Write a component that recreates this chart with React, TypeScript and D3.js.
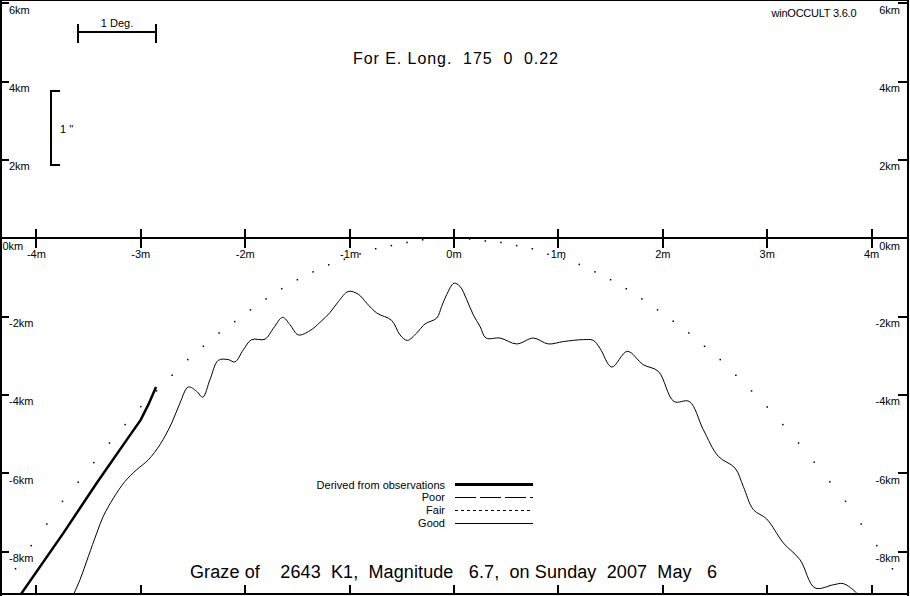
import React from 'react';
import * as d3 from 'd3';

const W = 910;
const H = 596;

// Axis ticks
const minuteTicks = [-4, -3, -2, -1, 0, 1, 2, 3, 4];
const minuteLabels = ['-4m', '-3m', '-2m', '-1m', '0m', '1m', '2m', '3m', '4m'];
const kmTicks = [6, 4, 2, -2, -4, -6, -8];
const kmLabels = ['6km', '4km', '2km', '-2km', '-4km', '-6km', '-8km'];
const zeroLabel = '0km';

// Texts
const titleText = 'For E. Long.  175  0  0.22';
const versionText = 'winOCCULT 3.6.0';
const grazeText = 'Graze of    2643  K1,  Magnitude   6.7,  on Sunday  2007  May   6';
const degLabel = '1 Deg.';
const arcsecLabel = "1 ''";

// Legend
const legendLabels = ['Derived from observations', 'Poor', 'Fair', 'Good'];

// Limb (dotted) curve: minutes, km
const limbMin = [
  -4.2, -4.05, -3.9, -3.75, -3.6, -3.45, -3.3, -3.15, -3.0, -2.85, -2.7, -2.55, -2.4, -2.25,
  -2.1, -1.95, -1.8, -1.65, -1.5, -1.35, -1.2, -1.05, -0.9, -0.75, -0.6, -0.45, -0.3, -0.15,
  0.0,
  0.15, 0.3, 0.45, 0.6, 0.75, 0.9, 1.05, 1.2, 1.35, 1.5, 1.65, 1.8, 1.95, 2.1,
  2.25, 2.4, 2.55, 2.7, 2.85, 3.0, 3.15, 3.3, 3.45, 3.6, 3.75, 3.9, 4.05, 4.2,
];
const limbKm = [
  -8.44, -7.85, -7.3, -6.72, -6.23, -5.73, -5.23, -4.76, -4.3, -3.9, -3.5, -3.1, -2.76, -2.42,
  -2.13, -1.83, -1.55, -1.29, -1.06, -0.86, -0.68, -0.54, -0.4, -0.27, -0.19, -0.11, -0.04, 0.0,
  -0.02,
  -0.02, -0.07, -0.11, -0.19, -0.27, -0.41, -0.53, -0.67, -0.86, -1.06, -1.29, -1.55, -1.83,
  -2.12, -2.42, -2.76, -3.1, -3.5, -3.9, -4.31, -4.76, -5.23, -5.72, -6.22, -6.72, -7.3, -7.85, -8.44,
];

// "Good" profile line: minutes, km
const profileMin = [
  -3.68, -3.582, -3.503, -3.422, -3.359, -3.263, -3.151, -3.039, -2.928, -2.816, -2.704, -2.625,
  -2.545, -2.465, -2.407, -2.337, -2.258, -2.162, -2.098, -2.018, -1.938, -1.81, -1.73, -1.641,
  -1.571, -1.491, -1.379, -1.284, -1.188, -1.108, -1.012, -0.917, -0.836, -0.74, -0.597, -0.517,
  -0.447, -0.357, -0.278, -0.166, -0.118, -0.07, 0.0, 0.057, 0.122, 0.185, 0.249, 0.307, 0.441,
  0.601, 0.76, 0.903, 1.047, 1.239, 1.334, 1.398, 1.511, 1.66, 1.813, 1.957, 2.107, 2.254, 2.388,
  2.532, 2.692, 2.771, 2.867, 2.995, 3.154, 3.314, 3.458, 3.633, 3.729, 3.857, 3.9,
];
const profileKm = [
  -9.3, -8.72, -8.13, -7.53, -7.1, -6.64, -6.21, -5.91, -5.66, -5.27, -4.72, -4.21,
  -3.8, -3.91, -4.06, -3.61, -3.12, -3.1, -3.16, -2.85, -2.59, -2.58, -2.3, -2.02,
  -2.21, -2.47, -2.36, -2.15, -1.9, -1.62, -1.36, -1.43, -1.66, -1.91, -2.1, -2.47,
  -2.61, -2.42, -2.19, -2.04, -1.74, -1.44, -1.15, -1.23, -1.57, -1.96, -2.25, -2.55, -2.55,
  -2.7, -2.55, -2.7, -2.64, -2.59, -2.61, -2.81, -3.29, -2.89, -3.23, -3.4, -4.17, -4.17, -4.89,
  -5.57, -5.87, -6.34, -6.93, -7.17, -7.78, -8.21, -8.93, -8.85, -8.82, -9.06, -9.2,
];

// "Derived from observations" line: minutes, km
const obsMin = [-4.19, -3.742, -3.422, -3.135, -3.001, -2.928, -2.854];
const obsKm = [-9.25, -7.53, -6.25, -5.15, -4.64, -4.25, -3.8];

const FONT = '"Liberation Sans", Arial, "DejaVu Sans", sans-serif';

export default function App() {
  const x = d3.scaleLinear().domain([-4, 4]).range([36.4, 871.6]);
  const y = d3.scaleLinear().domain([-8, 6]).range([551.5, 3.2]);

  const smoothLine = d3
    .line<[number, number]>()
    .x((d) => x(d[0]))
    .y((d) => y(d[1]))
    .curve(d3.curveCatmullRom.alpha(0.5));
  const straightLine = d3
    .line<[number, number]>()
    .x((d) => x(d[0]))
    .y((d) => y(d[1]));

  const profilePts: [number, number][] = profileMin.map((m, i) => [m, profileKm[i]]);
  const obsPts: [number, number][] = obsMin.map((m, i) => [m, obsKm[i]]);

  const y0 = y(0);
  const legendY = [484.5, 497, 510, 523];
  const legendDash = [null, '21,4', '3,3', null];
  const legendWidth = [2.5, 1, 1, 1];

  return (
    <svg
      width={W}
      height={H}
      viewBox={`0 0 ${W} ${H}`}
      style={{ position: 'absolute', left: 0, top: 0, background: '#fff' }}
      fontFamily={FONT}
    >
      <defs>
        <clipPath id="plotClip">
          <rect x={2} y={1} width={905} height={592} />
        </clipPath>
      </defs>
      <rect x={0} y={0} width={W} height={H} fill="#fff" />

      {/* Frame */}
      <g stroke="#000" shapeRendering="crispEdges">
        <line x1={0} x2={909} y1={0.5} y2={0.5} strokeWidth={1.5} />
        <line x1={1} x2={1} y1={0} y2={H} strokeWidth={2} />
        <line x1={908} x2={908} y1={0} y2={H} strokeWidth={2} />
        <line x1={0} x2={909} y1={594} y2={594} strokeWidth={2} />
        {/* zero axis */}
        <line x1={0} x2={909} y1={y0 - 0.5} y2={y0 - 0.5} strokeWidth={2} />
      </g>

      {/* Minute ticks top and bottom */}
      <g stroke="#000" strokeWidth={2} shapeRendering="crispEdges">
        {minuteTicks.map((m) => (
          <g key={m}>
            <line x1={x(m)} x2={x(m)} y1={229} y2={248} />
            <line x1={x(m)} x2={x(m)} y1={585} y2={594} />
          </g>
        ))}
      </g>
      <g fontSize={11} fill="#000" textAnchor="middle">
        {minuteTicks.map((m, i) => (
          <text key={m} x={x(m)} y={258}>
            {minuteLabels[i]}
          </text>
        ))}
      </g>

      {/* km ticks left and right */}
      <g stroke="#000" strokeWidth={2} shapeRendering="crispEdges">
        {kmTicks.map((k) => (
          <g key={k}>
            <line x1={0} x2={9} y1={y(k)} y2={y(k)} />
            <line x1={898} x2={909} y1={y(k)} y2={y(k)} />
          </g>
        ))}
      </g>
      <g fontSize={11} fill="#000">
        {kmTicks.map((k, i) => (
          <g key={k}>
            <text x={9} y={y(k) + 10.5}>
              {kmLabels[i]}
            </text>
            <text x={900} y={y(k) + 10.5} textAnchor="end">
              {kmLabels[i]}
            </text>
          </g>
        ))}
        <text x={2.5} y={y0 + 11.5}>
          {zeroLabel}
        </text>
        <text x={900} y={y0 + 11.5} textAnchor="end">
          {zeroLabel}
        </text>
      </g>

      {/* Header texts */}
      <text x={771.5} y={17} fontSize={11} textLength={85} lengthAdjust="spacing">
        {versionText}
      </text>
      <text
        x={353}
        y={64}
        fontSize={16}
        textLength={205}
        lengthAdjust="spacing"
        style={{ whiteSpace: 'pre' }}
      >
        {titleText}
      </text>

      {/* 1 degree scale bar */}
      <g stroke="#000" strokeWidth={2} shapeRendering="crispEdges">
        <line x1={77.7} x2={155.7} y1={32.3} y2={32.3} />
        <line x1={78} x2={78} y1={24} y2={42.5} />
        <line x1={155.5} x2={155.5} y1={24} y2={42.5} />
      </g>
      <text x={117} y={27} fontSize={11} textAnchor="middle">
        {degLabel}
      </text>

      {/* 1 arcsec bracket */}
      <g stroke="#000" strokeWidth={2} fill="none" shapeRendering="crispEdges">
        <polyline points="59.5,90.7 50.5,90.7 50.5,164.7 59.5,164.7" />
      </g>
      <text x={60} y={133} fontSize={11} style={{ whiteSpace: 'pre' }}>
        {arcsecLabel}
      </text>

      {/* Data */}
      <g clipPath="url(#plotClip)">
        {limbMin.map((m, i) => (
          <rect key={i} x={x(m) - 0.75} y={y(limbKm[i]) - 0.75} width={1.5} height={1.5} fill="#000" />
        ))}
        <path d={smoothLine(profilePts) || ''} fill="none" stroke="#000" strokeWidth={1} />
        <path d={straightLine(obsPts) || ''} fill="none" stroke="#000" strokeWidth={2.5} />
      </g>

      {/* Legend */}
      <g fontSize={11}>
        {legendLabels.map((lab, i) => (
          <g key={lab}>
            <text x={445} y={legendY[i] + 4} textAnchor="end">
              {lab}
            </text>
            <line
              x1={455}
              x2={533}
              y1={legendY[i]}
              y2={legendY[i]}
              stroke="#000"
              strokeWidth={legendWidth[i]}
              strokeDasharray={legendDash[i] || undefined}
              shapeRendering="crispEdges"
            />
          </g>
        ))}
      </g>

      {/* Bottom title */}
      <text
        x={190}
        y={578}
        fontSize={18}
        textLength={527}
        lengthAdjust="spacing"
        style={{ whiteSpace: 'pre' }}
      >
        {grazeText}
      </text>
    </svg>
  );
}
